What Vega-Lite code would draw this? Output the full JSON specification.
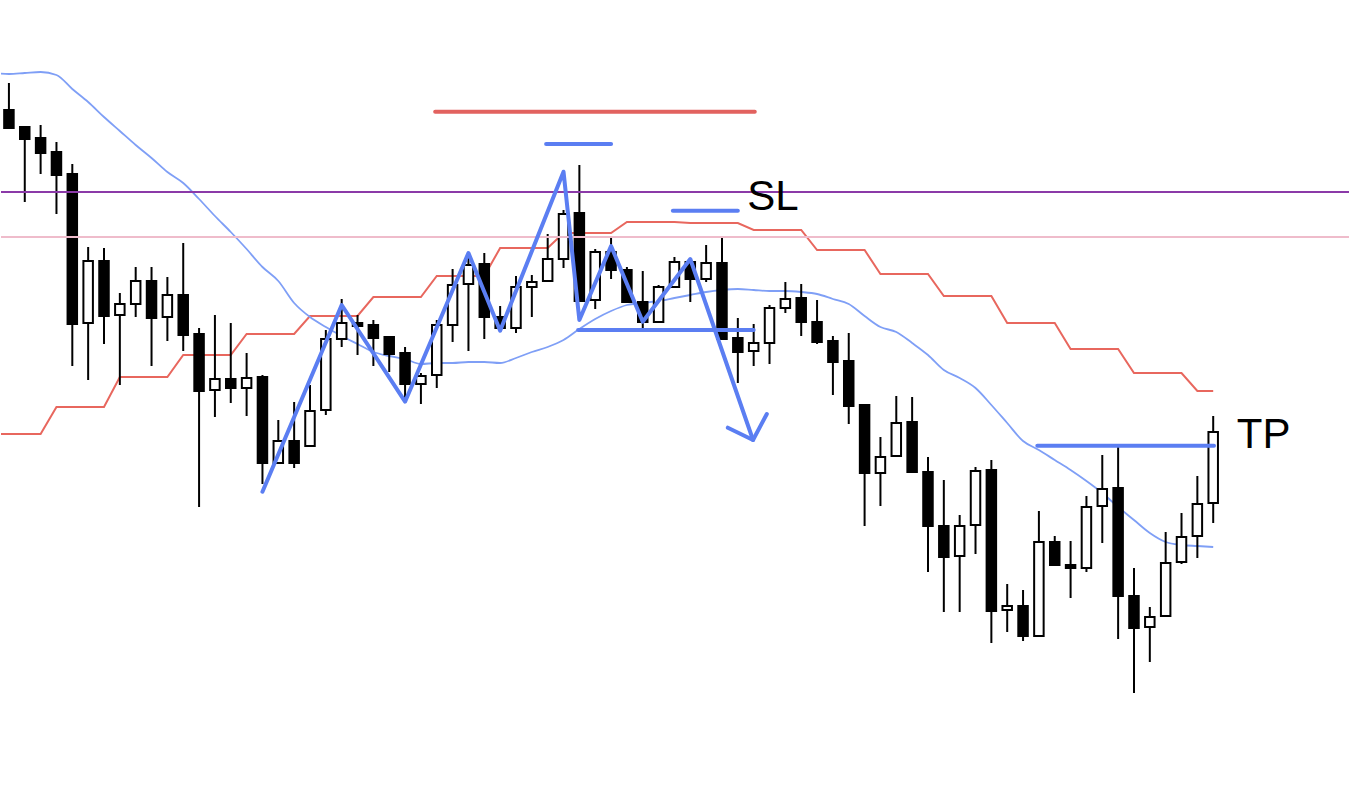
{
  "$schema": "https://vega.github.io/schema/vega-lite/v6.json",
  "width": 1350,
  "height": 796,
  "autosize": {"type": "fit", "contains": "padding"},
  "padding": 0,
  "background": "white",
  "config": {"view": {"stroke": null}},
  "datasets": {
    "candles": [
      {"i":0,"o":110,"h":83,"l":128,"c":128},
      {"i":1,"o":127,"h":126,"l":202,"c":139},
      {"i":2,"o":138,"h":125,"l":174,"c":153},
      {"i":3,"o":152,"h":142,"l":214,"c":175},
      {"i":4,"o":174,"h":164,"l":366,"c":324},
      {"i":5,"o":323,"h":247,"l":380,"c":261},
      {"i":6,"o":261,"h":248,"l":344,"c":316},
      {"i":7,"o":315,"h":293,"l":385,"c":304},
      {"i":8,"o":304,"h":267,"l":317,"c":281},
      {"i":9,"o":281,"h":267,"l":366,"c":318},
      {"i":10,"o":317,"h":277,"l":341,"c":295},
      {"i":11,"o":295,"h":243,"l":351,"c":335},
      {"i":12,"o":334,"h":328,"l":507,"c":391},
      {"i":13,"o":390,"h":315,"l":417,"c":379},
      {"i":14,"o":379,"h":323,"l":403,"c":388},
      {"i":15,"o":388,"h":353,"l":416,"c":378},
      {"i":16,"o":377,"h":375,"l":484,"c":463},
      {"i":17,"o":463,"h":420,"l":464,"c":441},
      {"i":18,"o":441,"h":402,"l":468,"c":463},
      {"i":19,"o":446,"h":385,"l":446,"c":411},
      {"i":20,"o":410,"h":330,"l":415,"c":339},
      {"i":21,"o":339,"h":299,"l":347,"c":323},
      {"i":22,"o":323,"h":315,"l":355,"c":326},
      {"i":23,"o":325,"h":320,"l":366,"c":338},
      {"i":24,"o":337,"h":337,"l":372,"c":354},
      {"i":25,"o":353,"h":347,"l":399,"c":384},
      {"i":26,"o":384,"h":373,"l":404,"c":376},
      {"i":27,"o":375,"h":320,"l":388,"c":325},
      {"i":28,"o":325,"h":269,"l":342,"c":285},
      {"i":29,"o":284,"h":253,"l":351,"c":265},
      {"i":30,"o":264,"h":253,"l":339,"c":317},
      {"i":31,"o":317,"h":306,"l":332,"c":328},
      {"i":32,"o":328,"h":276,"l":333,"c":287},
      {"i":33,"o":287,"h":275,"l":317,"c":282},
      {"i":34,"o":281,"h":234,"l":281,"c":259},
      {"i":35,"o":259,"h":210,"l":268,"c":214},
      {"i":36,"o":213,"h":165,"l":301,"c":301},
      {"i":37,"o":300,"h":249,"l":309,"c":252},
      {"i":38,"o":252,"h":238,"l":279,"c":270},
      {"i":39,"o":270,"h":267,"l":302,"c":302},
      {"i":40,"o":302,"h":271,"l":329,"c":322},
      {"i":41,"o":322,"h":285,"l":322,"c":287},
      {"i":42,"o":287,"h":257,"l":287,"c":262},
      {"i":43,"o":262,"h":258,"l":302,"c":279},
      {"i":44,"o":279,"h":245,"l":282,"c":263},
      {"i":45,"o":263,"h":238,"l":339,"c":339},
      {"i":46,"o":338,"h":318,"l":383,"c":352},
      {"i":47,"o":351,"h":324,"l":366,"c":343},
      {"i":48,"o":343,"h":305,"l":364,"c":308},
      {"i":49,"o":308,"h":282,"l":313,"c":299},
      {"i":50,"o":298,"h":284,"l":336,"c":322},
      {"i":51,"o":322,"h":300,"l":344,"c":342},
      {"i":52,"o":341,"h":336,"l":395,"c":362},
      {"i":53,"o":361,"h":333,"l":424,"c":406},
      {"i":54,"o":405,"h":405,"l":526,"c":473},
      {"i":55,"o":473,"h":437,"l":506,"c":457},
      {"i":56,"o":456,"h":396,"l":456,"c":423},
      {"i":57,"o":422,"h":397,"l":473,"c":472},
      {"i":58,"o":472,"h":457,"l":572,"c":526},
      {"i":59,"o":526,"h":480,"l":612,"c":557},
      {"i":60,"o":556,"h":515,"l":612,"c":526},
      {"i":61,"o":525,"h":467,"l":554,"c":471},
      {"i":62,"o":470,"h":460,"l":643,"c":611},
      {"i":63,"o":610,"h":584,"l":632,"c":606},
      {"i":64,"o":606,"h":590,"l":641,"c":636},
      {"i":65,"o":636,"h":511,"l":637,"c":542},
      {"i":66,"o":542,"h":536,"l":565,"c":565},
      {"i":67,"o":565,"h":541,"l":598,"c":568},
      {"i":68,"o":568,"h":496,"l":572,"c":507},
      {"i":69,"o":506,"h":455,"l":543,"c":489},
      {"i":70,"o":488,"h":447,"l":639,"c":596},
      {"i":71,"o":596,"h":568,"l":693,"c":628},
      {"i":72,"o":627,"h":607,"l":662,"c":617},
      {"i":73,"o":616,"h":532,"l":616,"c":563},
      {"i":74,"o":562,"h":513,"l":564,"c":537},
      {"i":75,"o":536,"h":476,"l":558,"c":504},
      {"i":76,"o":503,"h":416,"l":523,"c":432}
    ],
    "series": [
      {"i":-1,"ma":73,"st":434},{"i":0,"ma":74,"st":434},{"i":1,"ma":73,"st":434},{"i":2,"ma":72,"st":434},
      {"i":3,"ma":75,"st":407},{"i":4,"ma":89,"st":407},{"i":5,"ma":102,"st":407},{"i":6,"ma":117,"st":407},
      {"i":7,"ma":131,"st":377},{"i":8,"ma":145,"st":377},{"i":9,"ma":158,"st":377},{"i":10,"ma":172,"st":377},
      {"i":11,"ma":183,"st":355},{"i":12,"ma":199,"st":355},{"i":13,"ma":216,"st":355},{"i":14,"ma":232,"st":355},
      {"i":15,"ma":249,"st":334},{"i":16,"ma":267,"st":334},{"i":17,"ma":281,"st":334},{"i":18,"ma":303,"st":334},
      {"i":19,"ma":317,"st":316},{"i":20,"ma":327,"st":316},{"i":21,"ma":336,"st":316},{"i":22,"ma":344,"st":316},
      {"i":23,"ma":352,"st":297},{"i":24,"ma":356,"st":297},{"i":25,"ma":359,"st":297},{"i":26,"ma":364,"st":297},
      {"i":27,"ma":363,"st":276},{"i":28,"ma":363,"st":276},{"i":29,"ma":362,"st":276},{"i":30,"ma":362,"st":276},
      {"i":31,"ma":363,"st":248},{"i":32,"ma":358,"st":248},{"i":33,"ma":352,"st":248},{"i":34,"ma":347,"st":248},
      {"i":35,"ma":340,"st":233},{"i":36,"ma":329,"st":233},{"i":37,"ma":319,"st":233},{"i":38,"ma":311,"st":233},
      {"i":39,"ma":305,"st":222},{"i":40,"ma":303,"st":222},{"i":41,"ma":301,"st":222},{"i":42,"ma":298,"st":222},
      {"i":43,"ma":295,"st":223},{"i":44,"ma":292,"st":223},{"i":45,"ma":290,"st":223},{"i":46,"ma":289,"st":223},
      {"i":47,"ma":290,"st":230},{"i":48,"ma":291,"st":230},{"i":49,"ma":291,"st":230},{"i":50,"ma":292,"st":230},
      {"i":51,"ma":294,"st":250},{"i":52,"ma":299,"st":250},{"i":53,"ma":304,"st":250},{"i":54,"ma":316,"st":250},
      {"i":55,"ma":327,"st":274},{"i":56,"ma":332,"st":274},{"i":57,"ma":343,"st":274},{"i":58,"ma":355,"st":274},
      {"i":59,"ma":370,"st":296},{"i":60,"ma":378,"st":296},{"i":61,"ma":388,"st":296},{"i":62,"ma":405,"st":296},
      {"i":63,"ma":423,"st":323},{"i":64,"ma":441,"st":323},{"i":65,"ma":450,"st":323},{"i":66,"ma":460,"st":323},
      {"i":67,"ma":470,"st":349},{"i":68,"ma":481,"st":349},{"i":69,"ma":493,"st":349},{"i":70,"ma":507,"st":349},
      {"i":71,"ma":520,"st":373},{"i":72,"ma":533,"st":373},{"i":73,"ma":542,"st":373},{"i":74,"ma":545,"st":373},
      {"i":75,"ma":546,"st":391},{"i":76,"ma":547,"st":391}
    ],
    "zigzag": [
      {"g":"zz","o":0,"i":16,"y":491.7},
      {"g":"zz","o":1,"i":21,"y":305},
      {"g":"zz","o":2,"i":25,"y":401.7},
      {"g":"zz","o":3,"i":29,"y":253},
      {"g":"zz","o":4,"i":31,"y":330.7},
      {"g":"zz","o":5,"i":35,"y":171.7},
      {"g":"zz","o":6,"i":36,"y":320},
      {"g":"zz","o":7,"i":38,"y":246},
      {"g":"zz","o":8,"i":40,"y":321.7},
      {"g":"zz","o":9,"i":43,"y":259},
      {"g":"zz","o":10,"i":46.96,"y":440},
      {"g":"ah","o":0,"i":45.37,"y":427.7},
      {"g":"ah","o":1,"i":46.96,"y":440},
      {"g":"ah","o":2,"i":47.83,"y":414}
    ],
    "hlines": [
      {"kind":"resistance","i1":26.9,"i2":47.07,"y":111.7},
      {"kind":"blue","i1":33.9,"i2":38.0,"y":144},
      {"kind":"blue","i1":41.9,"i2":46.0,"y":210.7},
      {"kind":"blue","i1":35.92,"i2":47.0,"y":330},
      {"kind":"blue","i1":64.9,"i2":76.05,"y":445.7}
    ],
    "labels": [
      {"i":46.6,"y":197,"t":"SL"},
      {"i":77.49,"y":434.5,"t":"TP"}
    ]
  },
  "layer": [
    {
      "data": {"name": "series"},
      "mark": {"type": "line", "color": "#e8675e", "strokeWidth": 2, "clip": true, "interpolate": "linear"},
      "encoding": {
        "x": {"field": "i", "type": "quantitative", "scale": {"domain": [-0.5, 84.57], "nice": false, "zero": false, "padding": 0}, "axis": null},
        "y": {"field": "st", "type": "quantitative", "scale": {"domain": [0, 796], "nice": false, "zero": false, "reverse": true, "padding": 0}, "axis": null}
      }
    },
    {
      "data": {"name": "series"},
      "mark": {"type": "line", "color": "#7f9ff6", "strokeWidth": 1.8, "clip": true, "interpolate": "monotone"},
      "encoding": {
        "x": {"field": "i", "type": "quantitative", "axis": null},
        "y": {"field": "ma", "type": "quantitative", "axis": null}
      }
    },
    {
      "data": {"name": "candles"},
      "mark": {"type": "rule", "color": "black", "strokeWidth": 2},
      "encoding": {
        "x": {"field": "i", "type": "quantitative", "axis": null},
        "y": {"field": "h", "type": "quantitative", "axis": null},
        "y2": {"field": "l"}
      }
    },
    {
      "data": {"name": "candles"},
      "mark": {"type": "bar", "size": 9.5, "stroke": "black", "strokeWidth": 2, "cornerRadius": 0},
      "encoding": {
        "x": {"field": "i", "type": "quantitative", "axis": null},
        "y": {"field": "o", "type": "quantitative", "axis": null},
        "y2": {"field": "c"},
        "fill": {"condition": {"test": "datum.c < datum.o", "value": "white"}, "value": "black"}
      }
    },
    {
      "data": {"values": [{"lvl": 192, "kind": "purple"}, {"lvl": 237, "kind": "pink"}]},
      "mark": {"type": "rule", "strokeWidth": 2},
      "encoding": {
        "y": {"field": "lvl", "type": "quantitative", "axis": null},
        "color": {"field": "kind", "type": "nominal", "scale": {"domain": ["purple", "pink"], "range": ["#8b3aa8", "#efbccb"]}, "legend": null}
      }
    },
    {
      "data": {"name": "hlines"},
      "mark": {"type": "rule", "strokeWidth": 4, "strokeCap": "round"},
      "encoding": {
        "x": {"field": "i1", "type": "quantitative", "axis": null},
        "x2": {"field": "i2"},
        "y": {"field": "y", "type": "quantitative", "axis": null},
        "stroke": {"field": "kind", "type": "nominal", "scale": {"domain": ["blue", "resistance"], "range": ["#5b7ef2", "#e2625f"]}, "legend": null}
      }
    },
    {
      "data": {"name": "zigzag"},
      "mark": {"type": "line", "color": "#5b7ef2", "strokeWidth": 4, "strokeJoin": "round", "strokeCap": "round"},
      "encoding": {
        "x": {"field": "i", "type": "quantitative", "axis": null},
        "y": {"field": "y", "type": "quantitative", "axis": null},
        "detail": {"field": "g", "type": "nominal"},
        "order": {"field": "o", "type": "quantitative"}
      }
    },
    {
      "data": {"name": "labels"},
      "mark": {"type": "text", "align": "left", "baseline": "middle", "fontSize": 42, "font": "Liberation Sans", "color": "black"},
      "encoding": {
        "x": {"field": "i", "type": "quantitative", "axis": null},
        "y": {"field": "y", "type": "quantitative", "axis": null},
        "text": {"field": "t"}
      }
    }
  ]
}
